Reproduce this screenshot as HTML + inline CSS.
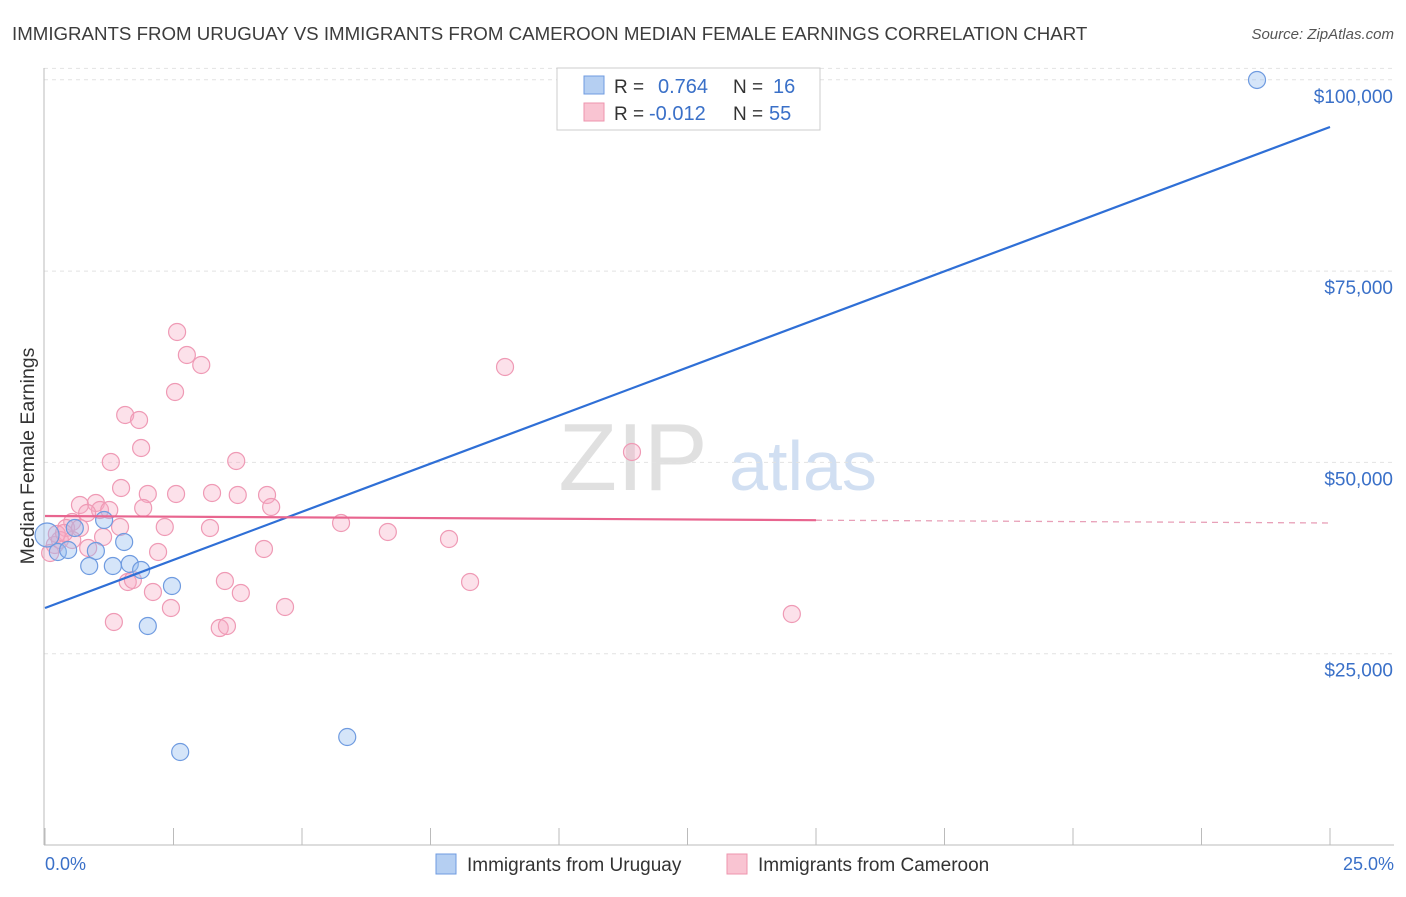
<!DOCTYPE html>
<html><head><meta charset="utf-8"><style>
body{margin:0;background:#fff;font-family:"Liberation Sans",sans-serif;}
svg text{font-family:"Liberation Sans",sans-serif;}
</style></head><body>
<svg id="chart" width="1406" height="892" viewBox="0 0 1406 892" xmlns="http://www.w3.org/2000/svg">
<text x="12" y="40" font-size="18.7" fill="#3c3c3c">IMMIGRANTS FROM URUGUAY VS IMMIGRANTS FROM CAMEROON MEDIAN FEMALE EARNINGS CORRELATION CHART</text>
<text x="1394" y="39" font-size="15" fill="#555" font-style="italic" text-anchor="end">Source: ZipAtlas.com</text>
<g>
<text x="633" y="490" font-size="96" fill="#d4d4d4" font-family="Liberation Serif, serif" text-anchor="middle" opacity="0.7">ZIP</text>
<text x="803" y="490" font-size="70" fill="#c6d8ef" text-anchor="middle" opacity="0.8">atlas</text>
</g>
<g id="grid"></g>
<line x1="44" y1="68" x2="44" y2="845" stroke="#bbb" stroke-width="1"/>
<line x1="44" y1="845" x2="1394" y2="845" stroke="#bbb" stroke-width="1"/>
<g id="xticks"></g>
<g id="yticks"></g>
<text transform="translate(34,456) rotate(-90)" font-size="19.5" fill="#333" text-anchor="middle">Median Female Earnings</text>
<text x="45" y="870" font-size="18" fill="#3a70c8">0.0%</text>
<text x="1394" y="870" font-size="18" fill="#3a70c8" text-anchor="end">25.0%</text>
<g id="points-cameroon"></g>
<g id="points-uruguay"></g>
<g id="lines"></g>
<g>
<rect x="557" y="68" width="263" height="62" fill="#fff" stroke="#ccc"/>
<rect x="584" y="76" width="20" height="18" fill="#b5cff2" stroke="#6f9be0"/>
<rect x="584" y="103" width="20" height="18" fill="#f9c4d2" stroke="#ee94ae"/>
<text x="614" y="93" font-size="19" fill="#333">R =</text>
<text x="658" y="93" font-size="20" fill="#3a70c8">0.764</text>
<text x="733" y="93" font-size="19" fill="#333">N =</text>
<text x="773" y="93" font-size="20" fill="#3a70c8">16</text>
<text x="614" y="120" font-size="19" fill="#333">R =</text>
<text x="649" y="120" font-size="20" fill="#3a70c8">-0.012</text>
<text x="733" y="120" font-size="19" fill="#333">N =</text>
<text x="769" y="120" font-size="20" fill="#3a70c8">55</text>
</g>
<g>
<rect x="436" y="854" width="20" height="20" fill="#b5cff2" stroke="#6f9be0"/>
<text x="467" y="871" font-size="19" fill="#333">Immigrants from Uruguay</text>
<rect x="727" y="854" width="20" height="20" fill="#f9c4d2" stroke="#ee94ae"/>
<text x="758" y="871" font-size="19" fill="#333">Immigrants from Cameroon</text>
</g>
</svg>
<script>
const yTicks=[25000,50000,75000,100000];
const yTickLabels=["$25,000","$50,000","$75,000","$100,000"];
const xTicks=[0,2.5,5,7.5,10,12.5,15,17.5,20,22.5,25];
const uruguayX=[0.04,0.25,0.45,0.58,0.99,0.86,1.15,1.32,1.54,1.65,1.87,2.47,2.00,2.63,5.88,23.58];
const uruguayY=[40514,38292,38553,41429,38423,36463,42474,36463,39599,36724,35940,33849,28621,12154,14114,99978];
const cameroonX=[2.57,2.76,3.04,2.53,1.56,1.83,1.87,1.28,3.72,1.48,2.00,2.55,3.25,3.75,4.32,4.40,0.99,0.68,1.07,0.82,1.25,1.91,0.53,0.41,0.68,1.46,2.33,3.21,4.26,1.13,0.84,0.19,0.10,0.29,0.53,2.20,1.61,2.10,3.50,3.81,2.45,4.67,1.34,3.40,3.54,5.76,6.67,7.86,8.27,8.95,11.42,14.53,0.23,0.37,1.71];
const cameroonY=[67044,64038,62731,59203,56197,55543,51884,50054,50185,46656,45872,45872,46003,45742,45742,44174,44696,44435,43781,43389,43781,44043,42213,41429,41429,41559,41559,41429,38684,40253,38815,39207,38162,39860,39860,38292,34371,33065,34502,32934,30974,31104,29144,28360,28621,42082,40906,39991,34371,62470,51361,30189,40645,40776,34633];
const uruguayFit=[30974,93835];
const cameroonFit=[42997,42082];
const cameroonSolidEnd=15;

const NS="http://www.w3.org/2000/svg";
const X0=45,X1=1330,Y0=845,PXPER=191.3/25000;
function sx(v){return X0+(v/25)*(X1-X0);}
function sy(v){return Y0-v*PXPER;}
function mk(tag,attrs,parent){const e=document.createElementNS(NS,tag);for(const k in attrs)e.setAttribute(k,attrs[k]);document.getElementById(parent).appendChild(e);return e;}

yTicks.forEach((t,i)=>{
  const g=mk('line',{x1:44,x2:1394,y1:sy(t),y2:sy(t),stroke:'#e2e2e2','stroke-dasharray':'4,4'},'grid');
  
  
  const l=mk('text',{x:1393,y:sy(t)+23,'font-size':19,fill:'#3a70c8','text-anchor':'end'},'yticks');
  l.textContent=yTickLabels[i];
  
  
});
const topGrid=mk('line',{x1:44,x2:1394,y1:sy(101500),y2:sy(101500),stroke:'#e2e2e2','stroke-dasharray':'4,4'},'grid');


xTicks.forEach(t=>{
  const l=mk('line',{x1:sx(t),x2:sx(t),y1:828,y2:845,stroke:'#bbb'},'xticks');
  
  
});
cameroonX.forEach((x,i)=>{
  const c=mk('circle',{cx:sx(x),cy:sy(cameroonY[i]),r:8.5,fill:'rgba(246,170,195,0.35)',stroke:'#ef9ab5','stroke-width':1.2},'points-cameroon');
  
  
});
uruguayX.forEach((x,i)=>{
  const c=mk('circle',{cx:sx(x),cy:sy(uruguayY[i]),r:i===0?12:8.5,fill:'rgba(150,190,240,0.4)',stroke:'#6f9be0','stroke-width':1.2},'points-uruguay');
  
  
});
const bl=mk('line',{x1:sx(0),y1:sy(uruguayFit[0]),x2:sx(25),y2:sy(uruguayFit[1]),stroke:'#2f6fd6','stroke-width':2.2},'lines');


const midY=cameroonFit[0]+(cameroonFit[1]-cameroonFit[0])*cameroonSolidEnd/25;
const pl=mk('line',{x1:sx(0),y1:sy(cameroonFit[0]),x2:sx(cameroonSolidEnd),y2:sy(midY),stroke:'#e8658f','stroke-width':2.2},'lines');


const pd=mk('line',{x1:sx(cameroonSolidEnd),y1:sy(midY),x2:sx(25),y2:sy(cameroonFit[1]),stroke:'#e8a0b8','stroke-width':1.3,'stroke-dasharray':'6,5'},'lines');


</script>
</body></html>
